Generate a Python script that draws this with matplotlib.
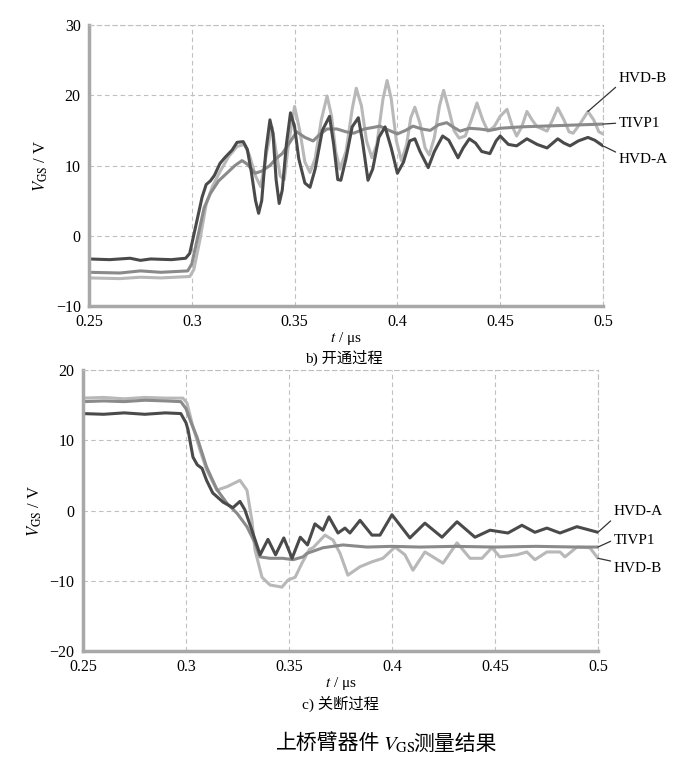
import matplotlib
matplotlib.use("Agg")
import matplotlib.pyplot as plt

plt.rcParams['font.family'] = ['Liberation Serif', 'Noto Sans CJK SC']
plt.rcParams['mathtext.fontset'] = 'stix'

# ---- b) turn-on, t in us, VGS in V ----
on_a_t = [0.250, 0.260, 0.270, 0.275, 0.280, 0.290, 0.297, 0.299, 0.302, 0.305, 0.307, 0.309, 0.311, 0.3137,
          0.316, 0.3196, 0.322, 0.325, 0.327, 0.329, 0.331, 0.3325, 0.334, 0.336, 0.338, 0.3395, 0.341, 0.3425,
          0.344, 0.346, 0.348, 0.350, 0.352, 0.355, 0.3575, 0.360, 0.3635, 0.367, 0.369, 0.371, 0.3725, 0.375,
          0.378, 0.381, 0.383, 0.3857, 0.388, 0.391, 0.394, 0.397, 0.400, 0.403, 0.406, 0.4085, 0.411, 0.415,
          0.418, 0.422, 0.425, 0.4295, 0.432, 0.435, 0.438, 0.441, 0.445, 0.448, 0.450, 0.454, 0.458, 0.463,
          0.468, 0.4728, 0.478, 0.481, 0.484, 0.488, 0.4927, 0.496, 0.498, 0.500]
on_a_v = [-3.3, -3.4, -3.2, -3.5, -3.3, -3.4, -3.2, -2.5, 1.5, 5.5, 7.3, 7.8, 8.6, 10.3,
          11.1, 12.2, 13.3, 13.4, 12.3, 9.0, 5.0, 3.2, 5.0, 12.0, 16.5, 14.5, 8.0, 4.6,
          6.5, 13.0, 17.5, 15.5, 11.0, 7.5, 6.9, 9.5, 15.0, 17.0, 13.0, 8.0, 7.9, 11.0,
          15.5, 16.8, 13.5, 7.9, 9.5, 14.0, 15.5, 12.5, 8.9, 10.5, 13.5, 13.8, 12.0, 9.7,
          12.0, 14.2, 13.6, 11.1, 12.5, 13.8, 13.2, 12.0, 11.7, 13.5, 14.2, 13.0, 12.8, 13.8,
          13.0, 12.5, 13.8, 13.2, 12.8, 13.5, 14.0, 13.6, 13.2, 12.8]

on_t_t = [0.250, 0.265, 0.275, 0.285, 0.298, 0.300, 0.303, 0.306, 0.309, 0.313, 0.317, 0.321, 0.3244, 0.327,
          0.3307, 0.334, 0.338, 0.341, 0.344, 0.347, 0.351, 0.355, 0.359, 0.3625, 0.3658, 0.3706, 0.375,
          0.3787, 0.384, 0.3915, 0.396, 0.400, 0.404, 0.4076, 0.412, 0.416, 0.420, 0.424, 0.427, 0.4305,
          0.435, 0.440, 0.445, 0.450, 0.460, 0.470, 0.480, 0.490, 0.500]
on_t_v = [-5.2, -5.3, -5.0, -5.2, -5.0, -4.0, 0.0, 4.0, 6.0, 7.8, 8.9, 10.0, 10.7, 10.2,
          8.9, 9.2, 10.0, 11.0, 11.7, 13.0, 14.8, 14.0, 13.5, 14.5, 15.2, 15.2, 14.8,
          14.6, 15.2, 15.6, 15.0, 14.5, 15.0, 15.6, 15.2, 15.0, 15.8, 16.1, 15.5, 14.9,
          15.3, 15.2, 15.0, 15.3, 15.5, 15.6, 15.7, 15.8, 15.9]

on_b_t = [0.250, 0.265, 0.275, 0.285, 0.299, 0.301, 0.304, 0.307, 0.310, 0.314, 0.318, 0.322, 0.3255, 0.328,
          0.331, 0.3335, 0.3365, 0.339, 0.341, 0.343, 0.345, 0.347, 0.350, 0.3525, 0.355, 0.3575, 0.360,
          0.363, 0.3658, 0.368, 0.370, 0.372, 0.375, 0.378, 0.380, 0.3825, 0.385, 0.3876, 0.390, 0.393,
          0.395, 0.397, 0.3995, 0.402, 0.4045, 0.4065, 0.4085, 0.411, 0.4135, 0.4155, 0.418, 0.4205, 0.4225,
          0.425, 0.4275, 0.430, 0.433, 0.436, 0.4387, 0.4415, 0.444, 0.447, 0.450, 0.4533, 0.456, 0.458,
          0.4605, 0.463, 0.4655, 0.468, 0.4705, 0.4728, 0.4755, 0.478, 0.481, 0.4835, 0.4855, 0.489,
          0.4927, 0.4955, 0.498, 0.500]
on_b_v = [-6.0, -6.1, -5.9, -6.0, -5.8, -4.8, -0.5, 4.5, 7.0, 9.3, 11.3, 12.7, 13.0, 11.5,
          8.5, 7.0, 12.0, 15.5, 12.0, 8.5, 8.0, 13.0, 18.4, 15.0, 10.5, 9.0, 11.0,
          16.5, 19.9, 17.0, 12.0, 9.5, 12.0, 18.0, 21.0, 18.5, 13.5, 11.1, 13.0, 19.5,
          22.1, 19.5, 13.5, 10.7, 13.0, 16.8, 18.3, 16.0, 12.5, 11.5, 14.0, 18.5, 20.7,
          18.0, 15.0, 13.9, 14.2, 16.5, 18.9, 16.5, 14.9, 15.5, 17.0, 18.0, 15.5, 14.2,
          15.5, 17.7, 16.5, 15.5, 15.2, 14.9, 16.5, 18.2, 16.5, 14.8, 14.6, 16.0,
          17.7, 16.5, 14.8, 14.5]

# ---- c) turn-off ----
off_a_t = [0.250, 0.260, 0.270, 0.280, 0.290, 0.2975, 0.300, 0.301, 0.3034, 0.3055, 0.3078, 0.310, 0.313,
           0.318, 0.3228, 0.3262, 0.3286, 0.332, 0.336, 0.3398, 0.3435, 0.3475, 0.3515, 0.3555, 0.359,
           0.3626, 0.3665, 0.3694, 0.3738, 0.3772, 0.3796, 0.3845, 0.3903, 0.3942, 0.400, 0.4087, 0.416,
           0.4243, 0.4316, 0.4403, 0.4476, 0.4563, 0.4631, 0.4694, 0.4752, 0.4816, 0.4898, 0.500]
off_a_v = [13.8, 13.7, 13.9, 13.7, 13.9, 13.8, 12.5, 11.5, 7.6, 6.5, 6.0, 4.3, 2.5,
           1.2, 0.4, 1.3, 0.1, -2.8, -6.3, -4.1, -6.3, -3.9, -6.8, -3.8, -4.9,
           -1.9, -2.8, -0.9, -3.2, -2.5, -3.2, -1.4, -3.5, -3.5, -0.6, -3.9, -1.8,
           -3.8, -1.6, -3.8, -2.8, -3.2, -2.1, -3.1, -2.5, -3.2, -2.3, -3.1]

off_t_t = [0.250, 0.260, 0.270, 0.280, 0.290, 0.2975, 0.300, 0.3025, 0.3053, 0.310, 0.315, 0.320, 0.3248,
           0.3296, 0.3335, 0.3359, 0.3408, 0.347, 0.352, 0.3568, 0.3587, 0.3665, 0.3762, 0.3879, 0.400,
           0.4136, 0.430, 0.450, 0.470, 0.490, 0.500]
off_t_v = [15.5, 15.6, 15.5, 15.7, 15.6, 15.5, 14.5, 12.5, 10.5, 6.2, 3.0, 1.0, -0.4,
           -2.3, -4.6, -6.6, -6.8, -6.8, -7.0, -6.6, -6.1, -5.3, -4.9, -5.2, -5.1,
           -5.2, -5.1, -5.2, -5.1, -5.2, -5.2]

off_b_t = [0.250, 0.260, 0.270, 0.280, 0.290, 0.2985, 0.3005, 0.3034, 0.3068, 0.310, 0.315, 0.320, 0.3262,
           0.3296, 0.332, 0.3335, 0.3369, 0.3408, 0.3466, 0.3495, 0.353, 0.3563, 0.360, 0.3617, 0.3675,
           0.3714, 0.3748, 0.3786, 0.3845, 0.3903, 0.3956, 0.4015, 0.4063, 0.4102, 0.416, 0.4199, 0.4248,
           0.4316, 0.4379, 0.4437, 0.4485, 0.4524, 0.4607, 0.4655, 0.4694, 0.4752, 0.4816, 0.484, 0.4898,
           0.4961, 0.500]
off_b_v = [16.0, 16.1, 15.9, 16.1, 16.0, 16.0, 15.3, 11.9, 8.6, 5.8, 2.9, 3.4, 4.3,
           2.9, -1.4, -5.6, -9.5, -10.6, -10.9, -9.9, -9.5, -7.5, -5.5, -5.3, -3.5,
           -4.2, -6.1, -9.2, -8.0, -7.3, -6.8, -5.2, -6.3, -8.5, -5.9, -6.6, -7.5,
           -4.6, -6.8, -6.8, -5.3, -6.6, -6.3, -5.9, -7.0, -5.9, -5.9, -6.6, -5.2,
           -5.3, -6.8]

x_ticks = [0.25, 0.3, 0.35, 0.4, 0.45, 0.5]
x_labels = ['0.25', '0.3', '0.35', '0.4', '0.45', '0.5']

c_a, c_t, c_b = '#4a4a4a', '#8a8a8a', '#b8b8b8'
grid_kw = dict(color='#c0c0c0', linestyle=(0, (4, 3)), linewidth=0.8)
line_kw = dict(lw=2.2, solid_joinstyle='round', solid_capstyle='round')


def style_axes(ax, yticks):
    ax.set_xlim(0.25, 0.5)
    ax.set_xticks(x_ticks)
    ax.set_xticklabels(x_labels)
    ax.set_yticks(yticks)
    ax.set_ylim(yticks[0], yticks[-1])
    ax.tick_params(length=0, labelsize=11.5, pad=6)
    ax.grid(True, **grid_kw)
    for s in ['left', 'bottom']:
        ax.spines[s].set_color('#a8a8a8')
        ax.spines[s].set_linewidth(2.5)
    for s in ['top', 'right']:
        ax.spines[s].set_color('#c0c0c0')
        ax.spines[s].set_linestyle((0, (4, 3)))
        ax.spines[s].set_linewidth(0.8)
    ax.set_ylabel('$V_{\\mathrm{GS}}$ / V', fontsize=12, labelpad=4)
    ax.set_xlabel('$t$ / μs', fontsize=11, labelpad=0)


def label(ax, text, xy, ytext, relpos):
    ax.annotate(text, xy=xy, xytext=(1.03, ytext), textcoords='axes fraction',
                fontsize=11, va='center', ha='left', annotation_clip=False,
                arrowprops=dict(arrowstyle='-', color='#333333', lw=0.9,
                                relpos=relpos, shrinkA=0, shrinkB=0))


fig = plt.figure(figsize=(6.88, 7.72), dpi=100)
ax1 = fig.add_axes([0.1294, 0.6036, 0.747, 0.364])
ax2 = fig.add_axes([0.1206, 0.1567, 0.7485, 0.364])

ax1.plot(on_b_t, on_b_v, color=c_b, **line_kw)
ax1.plot(on_t_t, on_t_v, color=c_t, **line_kw)
ax1.plot(on_a_t, on_a_v, color=c_a, **line_kw)
style_axes(ax1, [-10, 0, 10, 20, 30])
label(ax1, 'HVD-B', (on_b_t[-4], on_b_v[-4]), 0.81, (0, 0))
label(ax1, 'TIVP1', (on_t_t[-1], on_t_v[-1]), 0.651, (0, 0.5))
label(ax1, 'HVD-A', (on_a_t[-1], on_a_v[-1]), 0.52, (0, 1))
fig.text(0.5, 0.537, 'b) 开通过程', ha='center', va='center', fontsize=11)

ax2.plot(off_b_t, off_b_v, color=c_b, **line_kw)
ax2.plot(off_t_t, off_t_v, color=c_t, **line_kw)
ax2.plot(off_a_t, off_a_v, color=c_a, **line_kw)
style_axes(ax2, [-20, -10, 0, 10, 20])
label(ax2, 'HVD-A', (off_a_t[-1], off_a_v[-1]), 0.495, (0, 0))
label(ax2, 'TIVP1', (off_t_t[-1], off_t_v[-1]), 0.395, (0, 0.5))
label(ax2, 'HVD-B', (off_b_t[-1], off_b_v[-1]), 0.295, (0, 1))
fig.text(0.495, 0.088, 'c) 关断过程', ha='center', va='center', fontsize=11)

# caption
fig.text(0.553, 0.035, '上桥臂器件', ha='right', va='center', fontsize=15)
fig.text(0.556, 0.035, '$V_{\\mathrm{GS}}$', ha='left', va='center', fontsize=15)
fig.text(0.6, 0.035, '测量结果', ha='left', va='center', fontsize=15)

fig.savefig('out.png', dpi=100, facecolor='white')
